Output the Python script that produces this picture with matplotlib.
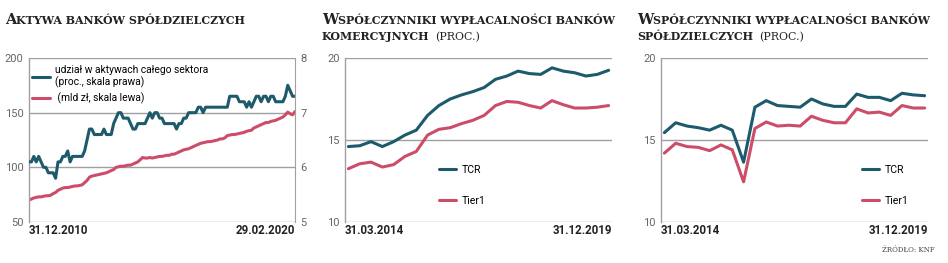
import matplotlib
matplotlib.use("Agg")
import matplotlib.pyplot as plt
import numpy as np

plt.rcParams['font.family'] = ['Liberation Sans Narrow', 'Roboto', 'DejaVu Sans']

# --- data -------------------------------------------------------------
# panel 1: monthly, 31.12.2010 .. 29.02.2020
aktywa_mld = [
    70, 71, 72, 72.5, 73, 73, 73.5, 74, 74, 74.5,
    76, 77, 79, 80, 81, 81.5, 81.5, 82, 82.5, 83,
    83, 83.5, 84, 86, 88, 91, 92, 92.5, 93, 93.5,
    94, 94.5, 95, 96, 97, 98, 100, 100.5, 101, 101,
    101.5, 102, 102, 103, 104, 105, 107, 109, 108.5, 108.5,
    109, 108.5, 109, 109.5, 110, 110, 110.5, 111, 111, 112,
    112, 113, 114, 115, 116, 116.5, 117, 118, 119, 120,
    121, 122, 122.5, 123, 123.5, 123.5, 124, 124.5, 125, 126,
    126, 127, 129, 129.5, 130, 130, 130.5, 131, 131.5, 132,
    133, 133.5, 134, 136, 137, 138, 139, 140, 141, 141,
    142, 142.5, 143, 144, 145, 146, 148, 150.5, 149, 148,
    151,
]
udzial_proc = [
    6.1, 6.1, 6.2, 6.1, 6.2, 6.1, 6.0, 6.0, 5.9, 5.9,
    5.9, 5.8, 6.1, 6.1, 6.2, 6.2, 6.3, 6.1, 6.2, 6.2,
    6.2, 6.2, 6.2, 6.3, 6.5, 6.7, 6.7, 6.6, 6.6, 6.6,
    6.6, 6.7, 6.6, 6.6, 6.6, 6.8, 6.9, 7.0, 7.0, 6.9,
    6.9, 6.9, 6.8, 6.7, 6.7, 6.8, 6.8, 6.8, 6.8, 6.9,
    7.0, 6.9, 7.0, 7.0, 6.9, 6.9, 6.8, 6.8, 6.8, 6.8,
    6.8, 6.7, 6.8, 6.8, 6.9, 6.9, 7.0, 7.0, 7.0, 7.0,
    7.1, 7.1, 7.0, 7.1, 7.1, 7.1, 7.1, 7.1, 7.1, 7.1,
    7.1, 7.1, 7.1, 7.3, 7.3, 7.3, 7.3, 7.2, 7.2, 7.2,
    7.1, 7.2, 7.1, 7.2, 7.3, 7.3, 7.2, 7.3, 7.3, 7.2,
    7.3, 7.3, 7.2, 7.2, 7.2, 7.2, 7.3, 7.5, 7.4, 7.3,
    7.3,
]

# panels 2 and 3: quarterly, 31.03.2014 .. 31.12.2019
kom_tcr = [14.6, 14.65, 14.9, 14.6, 14.9, 15.3, 15.6, 16.5, 17.1, 17.5, 17.75, 17.95,
           18.2, 18.7, 18.9, 19.2, 19.05, 19.0, 19.4, 19.2, 19.1, 18.9, 19.0, 19.25]
kom_tier1 = [13.25, 13.55, 13.65, 13.35, 13.5, 14.0, 14.3, 15.3, 15.65, 15.75, 16.0, 16.2,
             16.5, 17.1, 17.35, 17.3, 17.1, 16.95, 17.4, 17.15, 16.95, 16.95, 17.0, 17.1]
sp_tcr = [15.45, 16.05, 15.85, 15.75, 15.6, 15.9, 15.6, 13.65, 17.0, 17.4, 17.1, 17.05,
          17.0, 17.5, 17.2, 17.05, 17.05, 17.8, 17.6, 17.6, 17.4, 17.85, 17.75, 17.7]
sp_tier1 = [14.2, 14.8, 14.6, 14.55, 14.35, 14.7, 14.4, 12.45, 15.7, 16.1, 15.85, 15.9,
            15.85, 16.45, 16.2, 16.05, 16.05, 16.9, 16.65, 16.7, 16.5, 17.1, 16.95, 16.95]

titles = [("A", "KTYWA BANKÓW SPÓŁDZIELCZYCH", None),
          ("W", "SPÓŁCZYNNIKI WYPŁACALNOŚCI BANKÓW", "KOMERCYJNYCH"),
          ("W", "SPÓŁCZYNNIKI WYPŁACALNOŚCI BANKÓW", "SPÓŁDZIELCZYCH")]
dates1 = ["31.12.2010", "29.02.2020"]
dates23 = ["31.03.2014", "31.12.2019"]

TEAL = "#1c5a6c"
RED = "#cc4d69"
GRID = "#a0a0a0"
TICK = "#666666"

fig = plt.figure(figsize=(9.48, 2.63), dpi=100)
W, H = 948, 263


def px_axes(x0, x1, y0=58, y1=222):
    return fig.add_axes([x0 / W, 1 - y1 / H, (x1 - x0) / W, (y1 - y0) / H])


def style(ax, yticks, dates):
    ax.set_yticks(yticks)
    ax.grid(axis='y', color=GRID, lw=1.0)
    ax.set_axisbelow(True)
    for s in ['top', 'bottom', 'right']:
        ax.spines[s].set_visible(False)
    ax.spines['left'].set_color(GRID)
    ax.spines['left'].set_linewidth(1.0)
    ax.tick_params(axis='y', length=0, pad=4, labelsize=8, labelcolor=TICK)
    ax.set_xticks([])
    ax.text(0.0, -0.015, dates[0], transform=ax.transAxes, ha='left', va='top',
            fontsize=8.3, fontweight='bold', color='#222222')
    ax.text(1.0, -0.015, dates[1], transform=ax.transAxes, ha='right', va='top',
            fontsize=8.3, fontweight='bold', color='#222222')


def title(x, y, parts):
    big, rest, line2 = parts
    t = fig.text(x / W, 1 - y / H, big, fontsize=10.5, fontweight='bold',
                 family='DejaVu Serif', color='#222222', va='baseline')
    fig.canvas.draw()
    bb = t.get_window_extent()
    fig.text(bb.x1 / W, 1 - y / H, rest, fontsize=7.9, fontweight='bold',
             family='DejaVu Serif', color='#222222', va='baseline')
    if line2:
        t2 = fig.text(x / W, 1 - (y + 16) / H, line2, fontsize=7.9, fontweight='bold',
                      family='DejaVu Serif', color='#222222', va='baseline')
        fig.canvas.draw()
        bb2 = t2.get_window_extent()
        fig.text(bb2.x1 / W + 0.006, 1 - (y + 16) / H, "(PROC.)", fontsize=7.9,
                 family='DejaVu Serif', color='#222222', va='baseline')


# --- panel 1 ----------------------------------------------------------
ax1 = px_axes(29, 295)
m = np.arange(len(aktywa_mld))
l_red, = ax1.plot(m, aktywa_mld, color=RED, lw=2.2, solid_capstyle='round')
ax1.set_ylim(50, 200)
ax1.set_xlim(0, len(m) - 1)
style(ax1, [50, 100, 150, 200], dates1)
ax1r = ax1.twinx()
l_teal, = ax1r.plot(m, udzial_proc, color=TEAL, lw=2.2, solid_capstyle='round')
ax1r.set_ylim(5, 8)
ax1r.set_yticks([5, 6, 7, 8])
for s in ['top', 'bottom', 'left']:
    ax1r.spines[s].set_visible(False)
ax1r.spines['right'].set_color(GRID)
ax1r.tick_params(axis='y', length=0, pad=4, labelsize=8, labelcolor=TICK)
ax1r.legend([l_teal, l_red], ["udział w aktywach całego sektora\n(proc., skala prawa)",
                              " (mld zł, skala lewa)"],
            loc='upper left', bbox_to_anchor=(0.0, 0.975), frameon=False,
            fontsize=7.4, handlelength=1.7, handletextpad=0.5, labelspacing=0.4,
            borderaxespad=0.2, borderpad=0.1)

# --- panels 2, 3 ------------------------------------------------------
for (x0, x1), tcr, tier1, lx in [((345, 612), kom_tcr, kom_tier1, 0.33),
                                 ((661, 928), sp_tcr, sp_tier1, 0.73)]:
    ax = px_axes(x0, x1)
    q = np.arange(len(tcr))
    a, = ax.plot(q, tcr, color=TEAL, lw=2.2, solid_capstyle='round')
    b, = ax.plot(q, tier1, color=RED, lw=2.2, solid_capstyle='round')
    ax.set_ylim(10, 20)
    ax.set_xlim(-0.3, len(q) - 0.7)
    style(ax, [10, 15, 20], dates23)
    ax.legend([a, b], ["TCR", "Tier1"], loc='lower left', bbox_to_anchor=(lx, 0.06),
              frameon=False, fontsize=7.6, handlelength=1.6, handletextpad=0.5,
              labelspacing=2.0, borderpad=0.1)

title(5, 24, titles[0])
title(322, 24, titles[1])
title(637, 24, titles[2])

fig.text(935 / W, 1 - 252 / H, "ŹRÓDŁO: KNF", fontsize=5, family='DejaVu Serif',
         color='#444444', ha='right', va='baseline')

fig.savefig("out.png", dpi=100)
